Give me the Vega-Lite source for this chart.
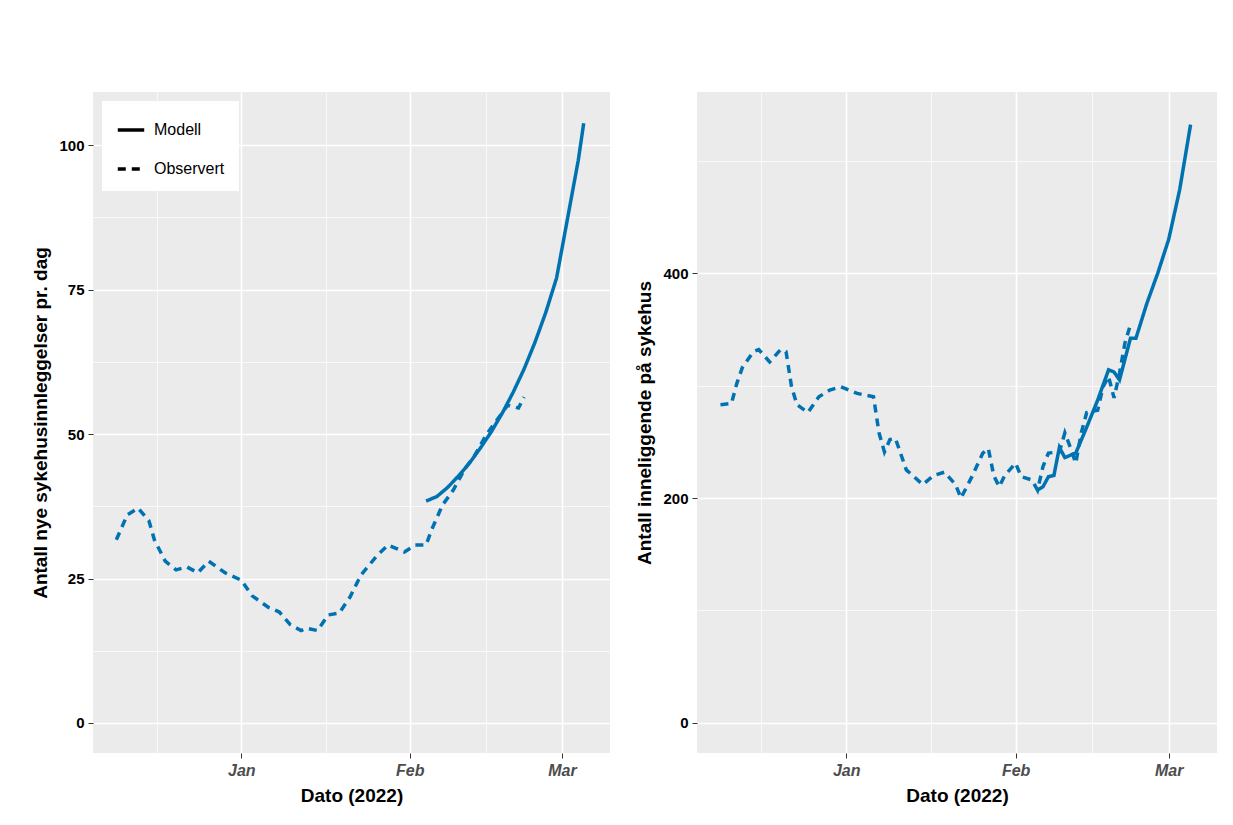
{
  "$schema": "https://vega.github.io/schema/vega-lite/v6.json",
  "background": "white",
  "padding": {"top": 92, "left": 31, "right": 10, "bottom": 10},
  "config": {
    "view": {"fill": "#EBEBEB", "stroke": null},
    "font": "Liberation Sans",
    "axis": {"gridColor": "white", "domain": false, "tickColor": "#333333", "tickSize": 5,
      "labelFontSize": 15, "labelFontWeight": "bold", "labelColor": "black", "labelPadding": 4,
      "titleFontSize": 19, "titleFontWeight": "bold", "titleColor": "black", "titlePadding": 8},
    "line": {"strokeWidth": 3.5, "color": "#0072B2"}
  },
  "spacing": 25,
  "datasets": {
    "left": [
      {"s": "Observert", "d": "2021-12-09", "v": 31.7}, {"s": "Observert", "d": "2021-12-11", "v": 36}, {"s": "Observert", "d": "2021-12-13", "v": 37.2},
      {"s": "Observert", "d": "2021-12-15", "v": 35}, {"s": "Observert", "d": "2021-12-16", "v": 31.7}, {"s": "Observert", "d": "2021-12-18", "v": 28},
      {"s": "Observert", "d": "2021-12-20", "v": 26.5}, {"s": "Observert", "d": "2021-12-22", "v": 27}, {"s": "Observert", "d": "2021-12-24", "v": 26},
      {"s": "Observert", "d": "2021-12-26", "v": 28}, {"s": "Observert", "d": "2021-12-29", "v": 26}, {"s": "Observert", "d": "2022-01-01", "v": 24.7},
      {"s": "Observert", "d": "2022-01-03", "v": 22}, {"s": "Observert", "d": "2022-01-06", "v": 20}, {"s": "Observert", "d": "2022-01-08", "v": 19.2},
      {"s": "Observert", "d": "2022-01-10", "v": 17}, {"s": "Observert", "d": "2022-01-12", "v": 16}, {"s": "Observert", "d": "2022-01-13", "v": 16.4},
      {"s": "Observert", "d": "2022-01-15", "v": 16}, {"s": "Observert", "d": "2022-01-17", "v": 18.7}, {"s": "Observert", "d": "2022-01-19", "v": 19},
      {"s": "Observert", "d": "2022-01-21", "v": 21.8}, {"s": "Observert", "d": "2022-01-23", "v": 25.6}, {"s": "Observert", "d": "2022-01-26", "v": 29},
      {"s": "Observert", "d": "2022-01-28", "v": 30.8}, {"s": "Observert", "d": "2022-01-29", "v": 30.4}, {"s": "Observert", "d": "2022-01-31", "v": 29.6},
      {"s": "Observert", "d": "2022-02-02", "v": 30.8}, {"s": "Observert", "d": "2022-02-04", "v": 30.8}, {"s": "Observert", "d": "2022-02-05", "v": 33.4},
      {"s": "Observert", "d": "2022-02-07", "v": 37.7}, {"s": "Observert", "d": "2022-02-09", "v": 40.3}, {"s": "Observert", "d": "2022-02-11", "v": 43.8},
      {"s": "Observert", "d": "2022-02-13", "v": 46.4}, {"s": "Observert", "d": "2022-02-15", "v": 49.8}, {"s": "Observert", "d": "2022-02-17", "v": 52.4},
      {"s": "Observert", "d": "2022-02-19", "v": 55}, {"s": "Observert", "d": "2022-02-21", "v": 54.5}, {"s": "Observert", "d": "2022-02-22", "v": 56.4},
      {"s": "Modell", "d": "2022-02-04", "v": 38.4}, {"s": "Modell", "d": "2022-02-06", "v": 39.2}, {"s": "Modell", "d": "2022-02-08", "v": 40.8},
      {"s": "Modell", "d": "2022-02-10", "v": 42.8}, {"s": "Modell", "d": "2022-02-12", "v": 45}, {"s": "Modell", "d": "2022-02-14", "v": 47.6},
      {"s": "Modell", "d": "2022-02-16", "v": 50.4}, {"s": "Modell", "d": "2022-02-18", "v": 53.6}, {"s": "Modell", "d": "2022-02-20", "v": 57.2},
      {"s": "Modell", "d": "2022-02-22", "v": 61.2}, {"s": "Modell", "d": "2022-02-24", "v": 65.8}, {"s": "Modell", "d": "2022-02-26", "v": 71},
      {"s": "Modell", "d": "2022-02-28", "v": 77}, {"s": "Modell", "d": "2022-03-02", "v": 87.2}, {"s": "Modell", "d": "2022-03-04", "v": 97.4},
      {"s": "Modell", "d": "2022-03-05", "v": 103.8}
    ],
    "right": [
      {"s": "Observert", "d": "2021-12-09", "v": 283}, {"s": "Observert", "d": "2021-12-11", "v": 284}, {"s": "Observert", "d": "2021-12-12", "v": 302},
      {"s": "Observert", "d": "2021-12-13", "v": 316}, {"s": "Observert", "d": "2021-12-15", "v": 330}, {"s": "Observert", "d": "2021-12-16", "v": 332},
      {"s": "Observert", "d": "2021-12-18", "v": 321}, {"s": "Observert", "d": "2021-12-20", "v": 332}, {"s": "Observert", "d": "2021-12-21", "v": 330},
      {"s": "Observert", "d": "2021-12-22", "v": 299}, {"s": "Observert", "d": "2021-12-23", "v": 283}, {"s": "Observert", "d": "2021-12-25", "v": 276},
      {"s": "Observert", "d": "2021-12-27", "v": 290}, {"s": "Observert", "d": "2021-12-29", "v": 296}, {"s": "Observert", "d": "2021-12-31", "v": 299},
      {"s": "Observert", "d": "2022-01-03", "v": 293}, {"s": "Observert", "d": "2022-01-06", "v": 290}, {"s": "Observert", "d": "2022-01-07", "v": 258},
      {"s": "Observert", "d": "2022-01-08", "v": 241}, {"s": "Observert", "d": "2022-01-09", "v": 252}, {"s": "Observert", "d": "2022-01-10", "v": 253},
      {"s": "Observert", "d": "2022-01-12", "v": 225}, {"s": "Observert", "d": "2022-01-15", "v": 212}, {"s": "Observert", "d": "2022-01-17", "v": 220},
      {"s": "Observert", "d": "2022-01-19", "v": 223}, {"s": "Observert", "d": "2022-01-21", "v": 212}, {"s": "Observert", "d": "2022-01-22", "v": 200},
      {"s": "Observert", "d": "2022-01-24", "v": 219}, {"s": "Observert", "d": "2022-01-26", "v": 240}, {"s": "Observert", "d": "2022-01-27", "v": 244},
      {"s": "Observert", "d": "2022-01-28", "v": 220}, {"s": "Observert", "d": "2022-01-29", "v": 210}, {"s": "Observert", "d": "2022-01-30", "v": 220},
      {"s": "Observert", "d": "2022-02-01", "v": 231}, {"s": "Observert", "d": "2022-02-02", "v": 219}, {"s": "Observert", "d": "2022-02-04", "v": 216},
      {"s": "Observert", "d": "2022-02-05", "v": 207}, {"s": "Observert", "d": "2022-02-06", "v": 228}, {"s": "Observert", "d": "2022-02-07", "v": 240},
      {"s": "Observert", "d": "2022-02-09", "v": 241}, {"s": "Observert", "d": "2022-02-10", "v": 258}, {"s": "Observert", "d": "2022-02-11", "v": 245},
      {"s": "Observert", "d": "2022-02-12", "v": 231}, {"s": "Observert", "d": "2022-02-13", "v": 258}, {"s": "Observert", "d": "2022-02-14", "v": 276},
      {"s": "Observert", "d": "2022-02-16", "v": 278}, {"s": "Observert", "d": "2022-02-17", "v": 299}, {"s": "Observert", "d": "2022-02-18", "v": 308},
      {"s": "Observert", "d": "2022-02-19", "v": 289}, {"s": "Observert", "d": "2022-02-20", "v": 311}, {"s": "Observert", "d": "2022-02-21", "v": 338},
      {"s": "Observert", "d": "2022-02-22", "v": 354},
      {"s": "Modell", "d": "2022-02-05", "v": 207}, {"s": "Modell", "d": "2022-02-06", "v": 210}, {"s": "Modell", "d": "2022-02-07", "v": 219},
      {"s": "Modell", "d": "2022-02-08", "v": 220}, {"s": "Modell", "d": "2022-02-09", "v": 245}, {"s": "Modell", "d": "2022-02-10", "v": 236},
      {"s": "Modell", "d": "2022-02-12", "v": 240}, {"s": "Modell", "d": "2022-02-14", "v": 263}, {"s": "Modell", "d": "2022-02-16", "v": 287},
      {"s": "Modell", "d": "2022-02-18", "v": 314}, {"s": "Modell", "d": "2022-02-19", "v": 312}, {"s": "Modell", "d": "2022-02-20", "v": 305},
      {"s": "Modell", "d": "2022-02-22", "v": 342}, {"s": "Modell", "d": "2022-02-23", "v": 342}, {"s": "Modell", "d": "2022-02-25", "v": 373},
      {"s": "Modell", "d": "2022-02-27", "v": 400}, {"s": "Modell", "d": "2022-03-01", "v": 430}, {"s": "Modell", "d": "2022-03-03", "v": 474},
      {"s": "Modell", "d": "2022-03-05", "v": 532}
    ]
  },
  "hconcat": [
    {
      "width": 517, "height": 661,
      "data": {"name": "left"},
      "mark": {"type": "line"},
      "encoding": {
        "x": {"field": "d", "type": "temporal", "title": "Dato (2022)",
          "scale": {"domain": ["2021-12-04T17:00", "2022-03-09T20:00"]},
          "axis": {"values": ["2021-12-16T12:00", "2022-01-01", "2022-01-16T12:00", "2022-02-01", "2022-02-15", "2022-03-01"],
            "labelExpr": "date(datum.value) == 1 ? timeFormat(datum.value, '%b') : ''",
            "labelFontStyle": "italic", "labelColor": "#4D4D4D", "labelFontSize": 16,
            "tickOpacity": {"condition": {"test": "date(datum.value) == 1", "value": 1}, "value": 0},
            "gridWidth": {"condition": {"test": "date(datum.value) == 1", "value": 1.6}, "value": 0.7}}},
        "y": {"field": "v", "type": "quantitative", "title": "Antall nye sykehusinnleggelser pr. dag",
          "scale": {"domain": [-5.2, 109.2], "nice": false, "zero": false},
          "axis": {"values": [0, 12.5, 25, 37.5, 50, 62.5, 75, 87.5, 100],
            "labelExpr": "datum.value % 25 == 0 ? datum.label : ''",
            "tickOpacity": {"condition": {"test": "datum.value % 25 == 0", "value": 1}, "value": 0},
            "gridWidth": {"condition": {"test": "datum.value % 25 == 0", "value": 1.6}, "value": 0.7}}},
        "strokeDash": {"field": "s", "type": "nominal", "title": null,
          "scale": {"domain": ["Modell", "Observert"], "range": [[1, 0], [8, 6]]},
          "legend": {"orient": "top-left", "offset": 9, "fillColor": "white", "padding": 14,
            "symbolType": "stroke", "symbolStrokeColor": "black", "symbolStrokeWidth": 3.5, "symbolSize": 700,
            "labelFontSize": 16, "labelFont": "Liberation Sans", "rowPadding": 16, "labelOffset": 8}}
      }
    },
    {
      "width": 520, "height": 661,
      "data": {"name": "right"},
      "mark": {"type": "line"},
      "encoding": {
        "x": {"field": "d", "type": "temporal", "title": "Dato (2022)",
          "scale": {"domain": ["2021-12-04T17:00", "2022-03-09T20:00"]},
          "axis": {"values": ["2021-12-16T12:00", "2022-01-01", "2022-01-16T12:00", "2022-02-01", "2022-02-15", "2022-03-01"],
            "labelExpr": "date(datum.value) == 1 ? timeFormat(datum.value, '%b') : ''",
            "labelFontStyle": "italic", "labelColor": "#4D4D4D", "labelFontSize": 16,
            "tickOpacity": {"condition": {"test": "date(datum.value) == 1", "value": 1}, "value": 0},
            "gridWidth": {"condition": {"test": "date(datum.value) == 1", "value": 1.6}, "value": 0.7}}},
        "y": {"field": "v", "type": "quantitative", "title": "Antall inneliggende på sykehus",
          "scale": {"domain": [-26.7, 561], "nice": false, "zero": false},
          "axis": {"values": [0, 100, 200, 300, 400, 500],
            "labelExpr": "datum.value % 200 == 0 ? datum.label : ''",
            "tickOpacity": {"condition": {"test": "datum.value % 200 == 0", "value": 1}, "value": 0},
            "gridWidth": {"condition": {"test": "datum.value % 200 == 0", "value": 1.6}, "value": 0.7}}},
        "strokeDash": {"field": "s", "type": "nominal", "legend": null,
          "scale": {"domain": ["Modell", "Observert"], "range": [[1, 0], [8, 6]]}}
      }
    }
  ],
  "resolve": {"scale": {"strokeDash": "independent"}}
}
